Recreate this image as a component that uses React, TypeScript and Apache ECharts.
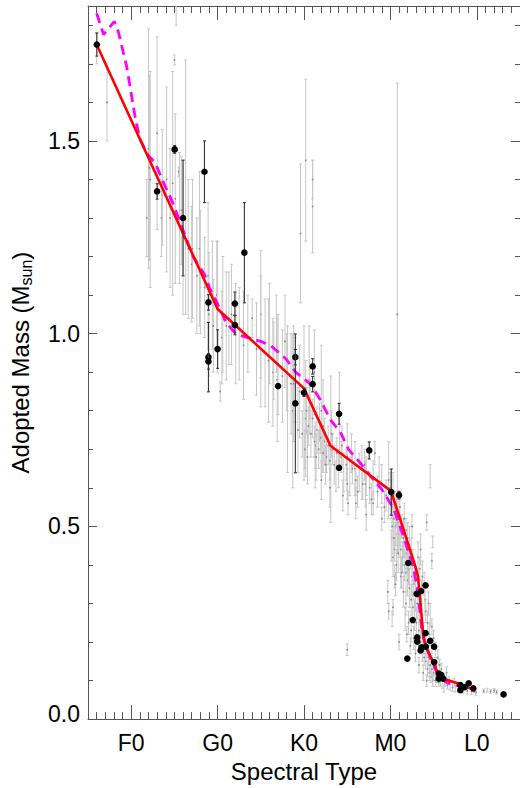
import React, { useEffect, useRef } from "react";
import * as echarts from "echarts";

// Spectral type scale: F0 = 0, G0 = 10, K0 = 20, M0 = 30, L0 = 40
const spectralTicks = [0, 10, 20, 30, 40];
const spectralLabels = ["F0", "G0", "K0", "M0", "L0"];
const massTicks = [0, 0.5, 1.0, 1.5];
const massMinorTicks = [0.1, 0.2, 0.3, 0.4, 0.6, 0.7, 0.8, 0.9, 1.1, 1.2, 1.3, 1.4, 1.6, 1.7, 1.8];

// grey sample: [spectral type, mass, error]
const greyPoints: number[][] = [
  [-4.0, 1.74, 0.04], [-2.8, 1.60, 0.10],
  [1.8, 1.30, 0.10], [2.0, 1.48, 0.31], [2.1, 1.43, 0.24], [2.2, 1.40, 0.28], [3.0, 1.52, 0.25],
  [3.5, 1.30, 0.10], [3.6, 1.38, 0.15], [4.1, 1.40, 0.24], [4.5, 1.30, 0.18], [4.8, 1.39, 0.29],
  [5.0, 1.71, 0.013], [5.1, 1.35, 0.22], [5.2, 1.88, 0.08], [5.5, 1.42, 0.012], [5.6, 1.30, 0.17],
  [5.8, 1.32, 0.14], [6.0, 1.25, 0.2], [6.3, 1.38, 0.33], [6.6, 1.22, 0.18], [7.0, 1.18, 0.15],
  [7.1, 1.22, 0.18], [7.6, 1.15, 0.15], [7.9, 1.22, 0.2], [8.0, 1.16, 0.16], [8.5, 1.12, 0.13],
  [8.9, 1.15, 0.19], [9.0, 1.05, 0.16], [9.4, 1.10, 0.14], [9.5, 1.02, 0.12], [9.9, 1.10, 0.14],
  [10.0, 1.07, 0.17], [10.3, 0.85, 0.025], [10.5, 0.99, 0.12], [10.6, 1.05, 0.15], [11.0, 1.02, 0.14],
  [11.3, 1.04, 0.12], [11.6, 1.05, 0.13], [12.1, 1.00, 0.13], [12.5, 1.00, 0.12], [13.0, 0.97, 0.14],
  [13.5, 1.00, 0.10], [14.0, 1.04, 0.05], [14.5, 0.96, 0.12], [15.0, 1.05, 0.165], [15.0, 0.98, 0.17],
  [15.5, 0.95, 0.14], [15.9, 0.93, 0.16], [16.0, 1.00, 0.13], [16.4, 0.90, 0.14], [16.5, 0.93, 0.10],
  [16.8, 1.00, 0.10], [16.9, 0.88, 0.16], [17.0, 0.92, 0.13], [17.5, 0.89, 0.12], [17.8, 0.98, 0.12],
  [18.0, 0.90, 0.10], [18.1, 0.83, 0.19], [18.5, 0.87, 0.13], [18.7, 0.80, 0.20], [18.8, 0.87, 0.15],
  [19.0, 0.88, 0.11], [19.3, 0.75, 0.11], [19.5, 0.85, 0.12], [19.6, 1.26, 0.18], [20.0, 0.82, 0.20],
  [20.2, 1.45, 0.21], [20.2, 0.78, 0.15], [20.6, 0.88, 0.14], [21.0, 1.33, 0.12], [21.0, 1.40, 0.05],
  [21.2, 0.90, 0.11], [21.3, 0.71, 0.06], [22.0, 0.80, 0.17], [22.2, 0.76, 0.12], [23.1, 0.70, 0.19],
  [24.1, 0.78, 0.12], [25.0, 0.68, 0.086], [25.0, 0.18, 0.015], [25.1, 0.56, 0.03], [25.9, 0.65, 0.07],
  [26.7, 0.64, 0.07], [27.1, 0.61, 0.06], [27.2, 0.53, 0.04], [28.2, 0.69, 0.03], [29.8, 0.62, 0.10],
  [30.8, 1.05, 0.60],
  [20.3, 0.80, 0.06], [20.5, 0.76, 0.05], [20.8, 0.74, 0.06], [21.0, 0.78, 0.05], [21.2, 0.72, 0.04],
  [21.5, 0.75, 0.06], [21.7, 0.70, 0.05], [21.9, 0.73, 0.04], [22.2, 0.69, 0.05], [22.4, 0.72, 0.06],
  [22.6, 0.68, 0.04], [22.8, 0.71, 0.05], [23.0, 0.67, 0.05], [23.3, 0.70, 0.04], [23.5, 0.66, 0.05],
  [23.8, 0.69, 0.04], [24.0, 0.65, 0.05], [24.3, 0.68, 0.04], [24.6, 0.64, 0.05], [24.9, 0.66, 0.04],
  [25.3, 0.63, 0.05], [25.6, 0.65, 0.04], [26.0, 0.62, 0.04], [26.4, 0.64, 0.05], [26.8, 0.61, 0.04],
  [27.2, 0.63, 0.05], [27.6, 0.60, 0.04], [28.0, 0.62, 0.05], [28.5, 0.59, 0.04], [29.0, 0.61, 0.05],
  [29.5, 0.58, 0.04], [21.3, 0.64, 0.04], [22.0, 0.62, 0.05], [23.0, 0.60, 0.05], [24.5, 0.58, 0.04],
  [26.0, 0.56, 0.04],
  [19.8, 0.74, 0.06], [20.1, 0.70, 0.05], [20.4, 0.68, 0.07], [20.7, 0.83, 0.05], [21.4, 0.68, 0.06],
  [21.8, 0.77, 0.05], [22.5, 0.66, 0.05], [23.2, 0.74, 0.06], [23.7, 0.63, 0.04], [24.4, 0.71, 0.05],
  [25.0, 0.61, 0.04], [25.5, 0.69, 0.05], [26.2, 0.59, 0.04], [27.0, 0.66, 0.04], [27.8, 0.57, 0.04],
  [28.7, 0.64, 0.04], [29.3, 0.55, 0.04],
  [30.0, 0.60, 0.04], [30.1, 0.57, 0.05], [30.2, 0.55, 0.04], [30.3, 0.58, 0.06], [30.4, 0.52, 0.05],
  [30.5, 0.56, 0.03], [30.6, 0.50, 0.05], [30.7, 0.54, 0.04], [30.8, 0.48, 0.05], [30.9, 0.51, 0.03],
  [31.0, 0.46, 0.04], [31.0, 0.53, 0.05], [31.1, 0.49, 0.04], [31.2, 0.44, 0.05], [31.3, 0.50, 0.03],
  [31.4, 0.42, 0.04], [31.5, 0.47, 0.05], [31.6, 0.40, 0.04], [31.7, 0.45, 0.03], [31.8, 0.38, 0.05],
  [31.9, 0.43, 0.04], [32.0, 0.36, 0.04], [32.0, 0.41, 0.03], [31.2, 0.37, 0.03], [31.5, 0.33, 0.04],
  [31.8, 0.30, 0.03], [32.1, 0.39, 0.04], [32.2, 0.34, 0.05], [32.3, 0.42, 0.03], [32.4, 0.31, 0.04],
  [32.5, 0.37, 0.05], [32.6, 0.29, 0.04], [32.7, 0.35, 0.03], [32.8, 0.27, 0.04], [32.9, 0.33, 0.05],
  [33.0, 0.25, 0.04], [32.4, 0.23, 0.03], [32.7, 0.21, 0.03], [33.1, 0.30, 0.04], [33.2, 0.36, 0.03],
  [33.3, 0.23, 0.04], [33.4, 0.28, 0.03], [33.5, 0.20, 0.03], [33.6, 0.26, 0.04], [33.7, 0.18, 0.03],
  [33.8, 0.22, 0.03], [33.9, 0.16, 0.02], [34.0, 0.20, 0.03], [34.0, 0.31, 0.04], [33.6, 0.33, 0.03],
  [34.1, 0.15, 0.02], [34.2, 0.18, 0.02], [34.3, 0.13, 0.02], [34.4, 0.16, 0.02], [34.5, 0.12, 0.02],
  [34.6, 0.14, 0.02], [34.7, 0.11, 0.015], [34.8, 0.13, 0.02], [34.9, 0.10, 0.015], [35.0, 0.12, 0.02],
  [34.5, 0.22, 0.03], [34.8, 0.19, 0.02], [35.2, 0.10, 0.015], [35.4, 0.11, 0.015], [35.6, 0.095, 0.01],
  [35.8, 0.10, 0.015], [36.0, 0.09, 0.01], [36.3, 0.095, 0.01], [36.6, 0.088, 0.01], [36.9, 0.085, 0.01],
  [37.2, 0.082, 0.01], [35.3, 0.14, 0.02], [35.9, 0.13, 0.015], [36.5, 0.12, 0.015], [37.5, 0.08, 0.01],
  [37.9, 0.078, 0.008], [38.4, 0.075, 0.008], [38.9, 0.073, 0.008], [39.4, 0.072, 0.008], [39.9, 0.07, 0.008],
  [40.8, 0.073, 0.005], [41.2, 0.075, 0.005], [41.6, 0.072, 0.005], [42.0, 0.074, 0.005], [42.3, 0.07, 0.005],
  [29.7, 0.33, 0.03], [29.8, 0.28, 0.02], [30.2, 0.26, 0.02], [30.3, 0.29, 0.02], [34.2, 0.51, 0.02],
  [34.9, 0.46, 0.015], [34.8, 0.41, 0.02], [34.6, 0.63, 0.03], [28.0, 0.56, 0.03], [29.0, 0.52, 0.03],
  [30.5, 0.37, 0.03], [31.0, 0.20, 0.02], [33.5, 0.44, 0.04], [32.5, 0.50, 0.03],
  [30.1, 0.45, 0.04], [30.3, 0.42, 0.05], [30.5, 0.44, 0.03], [30.7, 0.40, 0.04], [30.9, 0.43, 0.05],
  [31.1, 0.55, 0.04], [31.3, 0.38, 0.04], [30.2, 0.50, 0.03], [30.4, 0.47, 0.04], [30.6, 0.35, 0.03],
  [31.6, 0.52, 0.04], [31.8, 0.49, 0.03], [32.0, 0.47, 0.04], [32.2, 0.45, 0.05], [32.4, 0.44, 0.03],
  [32.6, 0.40, 0.04], [32.8, 0.38, 0.03], [31.7, 0.26, 0.03], [32.1, 0.25, 0.03], [32.3, 0.19, 0.02],
  [32.9, 0.17, 0.02], [31.9, 0.22, 0.02], [33.2, 0.42, 0.04], [33.4, 0.39, 0.03], [33.7, 0.37, 0.04],
  [33.9, 0.35, 0.03], [34.1, 0.28, 0.03], [34.3, 0.25, 0.03], [34.4, 0.30, 0.03], [34.6, 0.27, 0.03],
  [34.8, 0.24, 0.02], [35.0, 0.21, 0.02], [35.2, 0.18, 0.02], [35.5, 0.16, 0.02], [33.3, 0.14, 0.02],
  [33.8, 0.12, 0.02], [34.2, 0.10, 0.015], [35.7, 0.14, 0.015], [36.1, 0.11, 0.01], [36.8, 0.10, 0.01],
  [37.4, 0.095, 0.01], [36.2, 0.08, 0.01],
];

// black reference stars: [spectral type, mass, error]
const blackPoints: number[][] = [
  [-3.98, 1.75, 0.03], [3.0, 1.369, 0.02], [5.03, 1.478, 0.01], [6.0, 1.30, 0.15], [8.48, 1.42, 0.08],
  [13.1, 1.21, 0.13], [8.94, 1.081, 0.02], [8.94, 0.939, 0.09], [8.94, 0.928, 0.02], [10.0, 0.96, 0.05],
  [12.0, 1.078, 0.03], [12.0, 1.022, 0.025], [17.0, 0.864, 0], [19.0, 0.939, 0.02], [19.0, 0.819, 0.18],
  [20.0, 0.847, 0.01], [21.0, 0.915, 0.02], [21.0, 0.869, 0.02], [24.06, 0.792, 0.027], [24.06, 0.652, 0],
  [27.55, 0.697, 0.022], [30.1, 0.589, 0.06], [31.0, 0.581, 0.01], [32.07, 0.405, 0], [34.07, 0.347, 0],
  [33.04, 0.325, 0], [33.55, 0.332, 0], [32.58, 0.257, 0], [33.1, 0.212, 0], [33.1, 0.201, 0],
  [31.96, 0.157, 0], [33.6, 0.186, 0], [33.5, 0.178, 0], [34.1, 0.188, 0], [34.6, 0.203, 0],
  [35.06, 0.188, 0], [35.06, 0.148, 0], [35.6, 0.118, 0], [35.9, 0.114, 0], [35.6, 0.105, 0],
  [36.1, 0.105, 0], [38.1, 0.088, 0], [38.1, 0.075, 0], [39.06, 0.093, 0], [38.6, 0.083, 0],
  [39.6, 0.080, 0], [43.1, 0.064, 0], [34.07, 0.223, 0],
];

const redLine: number[][] = [
  [-4.0, 1.75], [10.0, 1.064], [20.0, 0.858], [23.06, 0.709], [30.05, 0.592], [31.0, 0.528],
  [32.85, 0.399], [33.2, 0.37], [33.4, 0.32], [33.8, 0.219], [34.07, 0.189], [35.1, 0.142],
  [35.7, 0.107], [38.0, 0.092], [39.75, 0.075],
];

const magentaLine: number[][] = [
  [-4.0, 1.831], [-3.2, 1.776], [-1.95, 1.81], [-1.5, 1.784], [-0.53, 1.694], [0.43, 1.565],
  [1.0, 1.505], [1.97, 1.462], [2.73, 1.445], [3.88, 1.385], [4.84, 1.338], [7.15, 1.20],
  [8.48, 1.154], [9.06, 1.119], [9.83, 1.085], [10.98, 1.029], [12.13, 0.999], [13.28, 0.991],
  [15.0, 0.980], [16.15, 0.969], [17.9, 0.935], [19.03, 0.90], [20.76, 0.869], [21.9, 0.828],
  [23.06, 0.776], [24.2, 0.745], [25.17, 0.699], [26.5, 0.665], [27.7, 0.63], [29.0, 0.596],
  [30.4, 0.545], [31.6, 0.468], [32.7, 0.39], [33.1, 0.34], [33.3, 0.30], [33.7, 0.22],
  [34.6, 0.16], [35.5, 0.115], [36.5, 0.095], [38.0, 0.085], [39.8, 0.072],
];

const FONT = "'Liberation Sans', Arial, Helvetica, sans-serif";
const AXIS_COLOR = "#555";

function errRender(dotColor: string, barColor: string, r: number, cap: number, lw: number) {
  return (params: any, api: any) => {
    const x = api.value(0);
    const y = api.value(1);
    const e = api.value(2);
    const p = api.coord([x, y]);
    const children: any[] = [];
    if (e > 0) {
      const lo = api.coord([x, y - e]);
      const hi = api.coord([x, y + e]);
      const st = { stroke: barColor, lineWidth: lw };
      children.push({ type: "line", shape: { x1: p[0], y1: lo[1], x2: p[0], y2: hi[1] }, style: st });
      children.push({ type: "line", shape: { x1: p[0] - cap, y1: lo[1], x2: p[0] + cap, y2: lo[1] }, style: st });
      children.push({ type: "line", shape: { x1: p[0] - cap, y1: hi[1], x2: p[0] + cap, y2: hi[1] }, style: st });
    }
    children.push({ type: "circle", shape: { cx: p[0], cy: p[1], r }, style: { fill: dotColor } });
    return { type: "group", children };
  };
}

export default function App() {
  const ref = useRef<HTMLDivElement>(null);
  useEffect(() => {
    if (!ref.current) return;
    const chart = echarts.init(ref.current, undefined, { renderer: "svg" });
    const xBase = { type: "value", min: -5, max: 45, splitLine: { show: false } };
    const yBase = { type: "value", min: 0, max: 1.85, splitLine: { show: false } };
    const lineStyle = { color: AXIS_COLOR, width: 1 };
    const shownLine = { show: true, onZero: false, lineStyle };
    const hiddenLine = { show: false, onZero: false };
    chart.setOption({
      animation: false,
      backgroundColor: "#fff",
      grid: { left: 86, top: 6, width: 434, height: 719, containLabel: false },
      xAxis: [
        {
          ...xBase, position: "bottom",
          axisLine: shownLine,
          axisTick: { show: true, inside: true, length: 14, customValues: spectralTicks, lineStyle },
          axisLabel: {
            show: true, customValues: spectralTicks, margin: 12, color: "#000", fontSize: 23, fontFamily: FONT,
            formatter: (v: number) => spectralLabels[spectralTicks.indexOf(Math.round(v))] ?? "",
          },
          name: "Spectral Type", nameLocation: "middle", nameGap: 35,
          nameTextStyle: { color: "#000", fontSize: 24, fontFamily: FONT },
        },
        {
          ...xBase, position: "bottom", interval: 1,
          axisLine: hiddenLine, axisLabel: { show: false },
          axisTick: { show: true, inside: true, length: 7, lineStyle },
        },
        {
          ...xBase, position: "top",
          axisLine: shownLine, axisLabel: { show: false },
          axisTick: { show: true, inside: true, length: 14, customValues: spectralTicks, lineStyle },
        },
        {
          ...xBase, position: "top", interval: 1,
          axisLine: hiddenLine, axisLabel: { show: false },
          axisTick: { show: true, inside: true, length: 7, lineStyle },
        },
      ],
      yAxis: [
        {
          ...yBase, position: "left",
          axisLine: shownLine,
          axisTick: { show: true, inside: true, length: 9, customValues: massTicks, lineStyle },
          axisLabel: {
            show: true, customValues: massTicks, margin: 8, color: "#000", fontSize: 23, fontFamily: FONT,
            formatter: (v: number) => (v === 0 ? "{low|0.0}" : "{n|" + v.toFixed(1) + "}"),
            rich: {
              low: { fontSize: 23, fontFamily: FONT, color: "#000", padding: [0, 0, 10, 0] },
              n: { fontSize: 23, fontFamily: FONT, color: "#000" },
            },
          },
          name: "{a|Adopted Mass (M}{s|sun}{a|)}", nameLocation: "middle", nameGap: 54,
          nameTextStyle: {
            color: "#000", fontFamily: FONT,
            rich: {
              a: { fontSize: 24, fontFamily: FONT, color: "#000", verticalAlign: "middle" },
              s: { fontSize: 16, fontFamily: FONT, color: "#000", verticalAlign: "middle", padding: [12, 0, 0, 0] },
            },
          },
        },
        {
          ...yBase, position: "left",
          axisLine: hiddenLine, axisLabel: { show: false },
          axisTick: { show: true, inside: true, length: 5, customValues: massMinorTicks, lineStyle },
        },
        {
          ...yBase, position: "right",
          axisLine: shownLine, axisLabel: { show: false },
          axisTick: { show: true, inside: true, length: 9, customValues: massTicks, lineStyle },
        },
        {
          ...yBase, position: "right",
          axisLine: hiddenLine, axisLabel: { show: false },
          axisTick: { show: true, inside: true, length: 5, customValues: massMinorTicks, lineStyle },
        },
      ],
      series: [
        {
          type: "custom", name: "grey", xAxisIndex: 0, yAxisIndex: 0, clip: true, z: 1,
          renderItem: errRender("#8a8a8a", "#c6c6c6", 0.9, 1.5, 1),
          data: greyPoints,
        },
        {
          type: "line", name: "magenta", xAxisIndex: 0, yAxisIndex: 0, z: 3, symbol: "none",
          data: magentaLine,
          lineStyle: { color: "#ff00ff", width: 2.8, type: [10, 6] },
        },
        {
          type: "line", name: "red", xAxisIndex: 0, yAxisIndex: 0, z: 4, symbol: "none",
          data: redLine,
          lineStyle: { color: "#ff0000", width: 2.6 },
        },
        {
          type: "custom", name: "black", xAxisIndex: 0, yAxisIndex: 0, clip: true, z: 5,
          renderItem: errRender("#000", "#333", 3.3, 1.5, 1.1),
          data: blackPoints,
        },
      ],
    });
    return () => chart.dispose();
  }, []);
  return (
    <div
      ref={ref}
      style={{ position: "absolute", left: 0, top: 0, width: 520, height: 788, background: "#fff" }}
    />
  );
}
